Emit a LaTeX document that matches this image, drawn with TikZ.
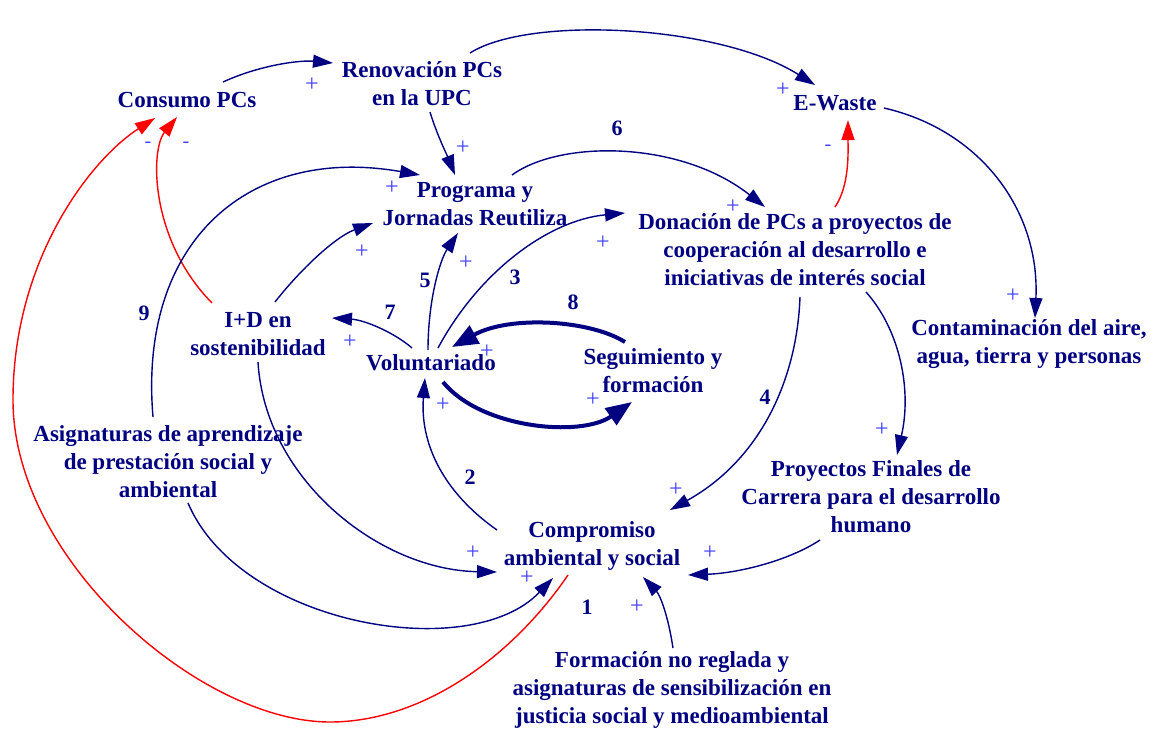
\documentclass[tikz,border=0pt]{standalone}
\usepackage{fontspec}
\setmainfont{Liberation Serif}
\usetikzlibrary{arrows.meta,calc}
\definecolor{navy}{RGB}{0,0,128}
\definecolor{plusblue}{RGB}{64,64,255}
\definecolor{redline}{RGB}{255,0,0}
\begin{document}
\begin{tikzpicture}[x=1pt,y=-1pt,
 lab/.style={text=navy,font=\fontsize{23}{28}\selectfont\bfseries,align=center,inner sep=0pt},
 num/.style={text=navy,font=\fontsize{22}{26}\selectfont\bfseries,inner sep=0pt},
 pol/.style={text=plusblue,font=\fontsize{24}{28}\selectfont,inner sep=0pt},
 neg/.style={text=plusblue,font=\fontsize{20}{24}\selectfont,inner sep=0pt},
 link/.style={draw=navy,line width=1.4pt,-{Triangle[length=20pt,width=13pt]}},
 neglink/.style={draw=redline,line width=1.4pt,-{Triangle[length=20pt,width=13pt]}},
 boldlink/.style={draw=navy,line width=4pt,-{Triangle[length=26pt,width=20pt]}},
]
\fill[white] (0,0) rectangle (1152,729);
\useasboundingbox (0,0) rectangle (1152,729);

% variables
\node[lab] (consumo) at (187,100) {Consumo PCs};
\node[lab] (renov) at (422,84) {Renovación PCs\\en la UPC};
\node[lab] (ewaste) at (835,103) {E-Waste};
\node[lab] (programa) at (475,204) {Programa y\\Jornadas Reutiliza};
\node[lab] (donacion) at (795,250) {Donación de PCs a proyectos de\\cooperación al desarrollo e\\iniciativas de interés social};
\node[lab] (contam) at (1029,344) {Contaminación del aire,\\agua, tierra y personas};
\node[lab] (id) at (258,334) {I+D en\\sostenibilidad};
\node[lab] (volunt) at (431,363) {Voluntariado};
\node[lab] (seguim) at (653,371) {Seguimiento y\\formación};
\node[lab] (asign) at (168,462) {Asignaturas de aprendizaje\\de prestación social y\\ambiental};
\node[lab] (proyectos) at (871,497) {Proyectos Finales de\\Carrera para el desarrollo\\humano};
\node[lab] (compromiso) at (592,546) {Compromiso\\ambiental y social};
\node[lab] (formacion) at (672,690) {Formación no reglada y\\asignaturas de sensibilización en\\justicia social y medioambiental};

% connectors
\draw[link] ($(consumo)+(36,-18)$) .. controls (260,65) and (300,60) .. ($(renov)+(-89,-21)$);
\draw[link] ($(renov)+(8,28)$) .. controls (437,135) and (447,155) .. ($(programa)+(-20,-29)$);
\draw[link] ($(renov)+(48,-31)$) .. controls (530,15) and (720,25) .. ($(ewaste)+(-20,-18)$);
\draw[link] ($(ewaste)+(49,5)$) .. controls (980,130) and (1040,210) .. ($(contam)+(6,-26)$);
\draw[neglink] ($(donacion)+(40,-43)$) .. controls (850,185) and (848,150) .. ($(ewaste)+(13,17)$);
\draw[link] ($(programa)+(37,-29)$) .. controls (560,140) and (680,140) .. ($(donacion)+(-30,-43)$);
\draw[link] ($(volunt)+(-3,-13)$) .. controls (428,300) and (440,260) .. ($(programa)+(-17,29)$);
\draw[link] ($(volunt)+(7,-15)$) .. controls (480,270) and (550,220) .. ($(donacion)+(-170,-37)$);
\draw[link] ($(volunt)+(-19,-15)$) .. controls (395,333) and (365,320) .. ($(id)+(74,-16)$);
\draw[link] ($(id)+(17,-32)$) .. controls (300,270) and (335,237) .. ($(programa)+(-102,19)$);
\draw[neglink] ($(id)+(-46,-31)$) .. controls (150,240) and (150,150) .. ($(consumo)+(-10,17)$);
\draw[link] ($(asign)+(-15,-45)$) .. controls (138,240) and (250,145) .. ($(programa)+(-55,-29)$);
\draw[link] ($(asign)+(20,41)$) .. controls (240,625) and (470,665) .. ($(compromiso)+(-39,32)$);
\draw[link] ($(id)+(0,28)$) .. controls (265,480) and (380,570) .. ($(compromiso)+(-95,26)$);
\draw[neglink] ($(compromiso)+(-24,29)$) .. controls (510,660) and (420,722) .. (330,722)
   .. controls (200,722) and (13,560) .. (13,400)
   .. controls (13,260) and (90,160) .. ($(consumo)+(-32,18)$);
\draw[link] ($(compromiso)+(-95,-16)$) .. controls (440,490) and (420,440) .. ($(volunt)+(-6,15)$);
\draw[link] ($(donacion)+(5,47)$) .. controls (797,380) and (760,460) .. ($(compromiso)+(78,-36)$);
\draw[link] ($(donacion)+(71,42)$) .. controls (900,330) and (912,390) .. ($(proyectos)+(26,-42)$);
\draw[link] ($(proyectos)+(-51,43)$) .. controls (790,560) and (740,573) .. ($(compromiso)+(96,29)$);
\draw[link] ($(formacion)+(1,-42)$) .. controls (668,615) and (660,595) .. ($(compromiso)+(51,31)$);
\draw[boldlink] ($(seguim)+(-28,-29)$) .. controls (590,320) and (510,315) .. ($(volunt)+(21,-16)$);
\draw[boldlink] ($(volunt)+(12,19)$) .. controls (480,428) and (580,438) .. ($(seguim)+(-21,31)$);

% loop numbers
\foreach \n/\x/\y in {1/587/607,2/470/477,3/515/277,4/765/397,5/425/280,6/617/128,7/390/312,8/573/302,9/144/313}
  \node[num] (loop\n) at (\x,\y) {\n};

% polarities
\foreach \i/\x/\y in {a/312/85,b/463/148,c/783/90,d/1013/296,e/733/207,f/466/263,g/603/243,h/350/342,i/362/252,j/392/188,k/473/553,l/527/578,m/443/405,n/676/490,o/882/430,p/710/553,q/637/607,r/487/352,s/593/400}
  \node[pol] (plus\i) at (\x,\y) {+};
\foreach \i/\x/\y in {a/828/148,b/186/145,c/148/145}
  \node[neg] (minus\i) at (\x,\y) {-};
\end{tikzpicture}
\end{document}
